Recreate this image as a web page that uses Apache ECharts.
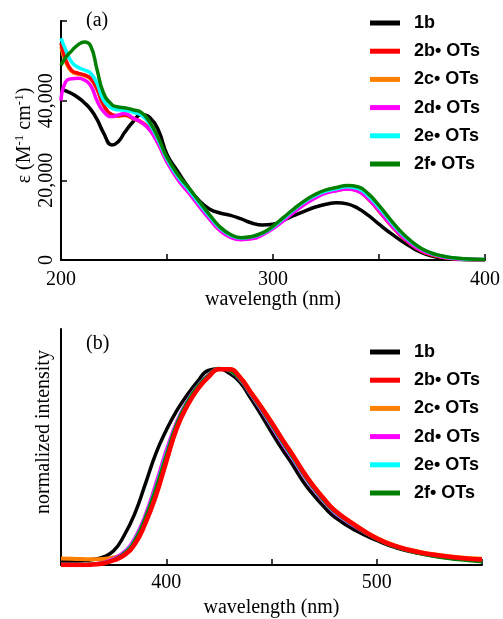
<!DOCTYPE html>
<html>
<head>
<meta charset="utf-8">
<script src="https://cdn.jsdelivr.net/npm/echarts@6/dist/echarts.min.js"></script>
<style>
  html, body { margin: 0; padding: 0; background: #fff; }
  #chart { width: 503px; height: 619px; }
</style>
</head>
<body>
<div id="chart"></div>
<script>
// (a) absorption, wavelength (nm) vs epsilon (M-1 cm-1)
const absWl = [200, 202, 205, 208, 211, 214, 217, 220, 224, 227, 230, 234, 238, 242, 246, 250,
  255, 260, 265, 270, 275, 280, 285, 290, 295, 300, 305, 310, 315, 320, 325, 330, 335, 340, 345, 350,
  355, 360, 365, 370, 375, 380, 385, 390, 400]
const abs1b = [43000, 42500, 41800, 40800, 39500, 37800, 35300, 32000, 28900, 29700, 32000, 34700, 36500, 35700, 32500, 26500,
  22300, 18300, 15000, 12800, 11800, 11200, 10300, 9300, 8800, 9000, 10000, 11200, 12300, 13300, 14000, 14400, 14100, 13000, 11200, 9000,
  6900, 5000, 3300, 1900, 1000, 500, 200, 80, 0]
const abs2b = [54400, 50600, 47600, 46900, 46500, 45600, 43000, 39000, 36500, 36200, 36400, 35600, 34600, 32800, 29200, 24800,
  20500, 17200, 13800, 10500, 7500, 5800, 5200, 5500, 6600, 8200, 10300, 12400, 14300, 15800, 16900, 17500, 17900, 17400, 15300, 12300,
  9100, 6300, 4000, 2300, 1300, 700, 350, 180, 50]
const abs2c = [53500, 50000, 47300, 46700, 46300, 45400, 42800, 38900, 36400, 36100, 36300, 35500, 34500, 32700, 29100, 24700,
  20400, 17100, 13700, 10400, 7500, 5800, 5200, 5500, 6600, 8200, 10300, 12400, 14300, 15800, 16900, 17500, 17900, 17400, 15300, 12300,
  9100, 6300, 4000, 2300, 1300, 700, 350, 180, 50]
const abs2d = [40000, 44500, 45500, 45600, 45200, 43800, 40000, 37300, 36000, 36400, 36800, 35600, 34500, 32500, 29000, 24600,
  20300, 17000, 13600, 10300, 7400, 5700, 5100, 5300, 6300, 7900, 9900, 12000, 14000, 15600, 16800, 17400, 17800, 17300, 15300, 12400,
  9200, 6400, 4100, 2400, 1400, 750, 380, 200, 60]
const abs2e = [55700, 53000, 49700, 48400, 47700, 46900, 44300, 40200, 38100, 37700, 37600, 37100, 36300, 34000, 30000, 25400,
  21000, 17800, 14300, 11000, 8000, 6200, 5500, 5800, 6700, 8300, 10500, 12700, 14700, 16200, 17300, 17900, 18400, 18000, 16100, 13200,
  10000, 7000, 4600, 2800, 1600, 950, 500, 280, 100]
const abs2f = [48900, 50700, 52500, 54000, 54700, 53700, 47800, 42000, 39000, 38400, 38200, 37700, 37000, 34500, 30500, 25800,
  21500, 18300, 14800, 11400, 8300, 6400, 5600, 5900, 6800, 8500, 10700, 12900, 14900, 16500, 17600, 18200, 18700, 18400, 16600, 13700,
  10400, 7300, 4800, 2900, 1700, 1000, 550, 300, 100]

// (b) emission, normalized
const emWl = [350, 355, 360, 365, 370, 375, 380, 385, 390, 395, 400, 405, 410, 415, 420, 425, 430, 435, 440, 445,
  450, 455, 460, 465, 470, 475, 480, 490, 500, 510, 520, 530, 540, 550]
const em1b = [0.02, 0.02, 0.022, 0.028, 0.04, 0.072, 0.15, 0.26, 0.41, 0.565, 0.685, 0.785, 0.865, 0.935, 0.99, 0.998, 0.975, 0.93, 0.85, 0.765,
  0.675, 0.59, 0.51, 0.425, 0.355, 0.295, 0.244, 0.175, 0.125, 0.085, 0.06, 0.042, 0.03, 0.02]
const em2b = [0, 0, 0, 0.003, 0.008, 0.024, 0.05, 0.105, 0.21, 0.35, 0.525, 0.695, 0.81, 0.895, 0.955, 0.995, 0.995, 0.955, 0.88, 0.805,
  0.725, 0.64, 0.56, 0.475, 0.4, 0.335, 0.277, 0.2, 0.135, 0.092, 0.065, 0.048, 0.036, 0.028]
const em2c = [0.033, 0.032, 0.03, 0.029, 0.03, 0.038, 0.058, 0.11, 0.213, 0.352, 0.527, 0.697, 0.812, 0.897, 0.957, 0.996, 0.996, 0.957, 0.883, 0.808,
  0.728, 0.643, 0.563, 0.478, 0.403, 0.338, 0.28, 0.203, 0.138, 0.095, 0.068, 0.05, 0.038, 0.032]
const em2d = [0.005, 0.005, 0.005, 0.008, 0.015, 0.035, 0.07, 0.14, 0.26, 0.42, 0.59, 0.735, 0.84, 0.915, 0.97, 1.0, 0.985, 0.94, 0.865, 0.785,
  0.7, 0.615, 0.535, 0.455, 0.38, 0.318, 0.262, 0.19, 0.13, 0.088, 0.062, 0.045, 0.033, 0.025]
const em2e = [0.004, 0.004, 0.004, 0.006, 0.012, 0.03, 0.063, 0.13, 0.245, 0.4, 0.57, 0.725, 0.835, 0.912, 0.967, 0.999, 0.987, 0.943, 0.868, 0.79,
  0.706, 0.622, 0.541, 0.46, 0.385, 0.322, 0.266, 0.193, 0.13, 0.087, 0.06, 0.042, 0.03, 0.02]
const em2f = [0.004, 0.004, 0.004, 0.006, 0.011, 0.028, 0.06, 0.125, 0.24, 0.39, 0.56, 0.72, 0.83, 0.91, 0.965, 1.0, 0.988, 0.945, 0.872, 0.795,
  0.712, 0.628, 0.548, 0.465, 0.39, 0.325, 0.27, 0.195, 0.13, 0.087, 0.058, 0.038, 0.025, 0.015]

const names = ['1b', '2b• OTs', '2c• OTs', '2d• OTs', '2e• OTs', '2f• OTs']
const colors = {
  '1b': '#000000',
  '2b• OTs': '#ff0000',
  '2c• OTs': '#ff8000',
  '2d• OTs': '#ff00ff',
  '2e• OTs': '#00ffff',
  '2f• OTs': '#008000'
}

const serif = 'Liberation Serif'
const pairs = (xs, ys) => xs.map((x, i) => [x, ys[i]])

function line(name, xs, ys, idx, width) {
  return {
    name,
    type: 'line',
    xAxisIndex: idx,
    yAxisIndex: idx,
    data: pairs(xs, ys),
    smooth: 0.5,
    showSymbol: false,
    symbol: 'none',
    lineStyle: { color: colors[name], width },
    itemStyle: { color: colors[name] }
  }
}

const axisCommon = {
  axisLine: { show: true, onZero: false, lineStyle: { color: '#000', width: 2 } },
  axisTick: { show: true, inside: true, length: 6, lineStyle: { color: '#000', width: 1.5 } },
  splitLine: { show: false },
  axisLabel: { color: '#000', fontFamily: serif, fontSize: 20 }
}

function legend(top) {
  return {
    data: names,
    orient: 'vertical',
    left: 370,
    top,
    padding: 0,
    icon: 'rect',
    itemWidth: 30,
    itemHeight: 5,
    itemGap: 8.2,
    selectedMode: false,
    textStyle: {
      fontFamily: 'Liberation Sans',
      fontWeight: 'bold',
      fontSize: 18,
      color: '#000',
      lineHeight: 20,
      padding: [0, 0, 0, 9]
    }
  }
}

const chart = echarts.init(document.getElementById('chart'))
chart.setOption({
  animation: false,
  backgroundColor: '#fff',
  title: [
    { text: '(a)', left: 86, top: 11, padding: 0, textStyle: { fontFamily: serif, fontSize: 20, fontWeight: 'normal', color: '#000' } },
    { text: '(b)', left: 86, top: 334, padding: 0, textStyle: { fontFamily: serif, fontSize: 20, fontWeight: 'normal', color: '#000' } }
  ],
  legend: [legend(13), legend(342)],
  grid: [
    { left: 61, right: 17, top: 21, bottom: 359 },
    { left: 61, right: 21, top: 329, bottom: 50 }
  ],
  xAxis: [
    {
      ...axisCommon,
      type: 'value', gridIndex: 0, min: 200, max: 400, interval: 50,
      name: 'wavelength (nm)', nameLocation: 'middle', nameGap: 30, nameMoveOverlap: false,
      nameTextStyle: { fontFamily: serif, fontSize: 20, color: '#000' },
      axisLabel: { ...axisCommon.axisLabel, margin: 10, formatter: v => (v % 100 === 0 ? String(v) : '') }
    },
    {
      ...axisCommon,
      type: 'value', gridIndex: 1, min: 350, max: 550, interval: 50,
      name: 'wavelength (nm)', nameLocation: 'middle', nameGap: 33, nameMoveOverlap: false,
      nameTextStyle: { fontFamily: serif, fontSize: 20, color: '#000' },
      axisLabel: { ...axisCommon.axisLabel, margin: 8, formatter: v => (v % 100 === 0 ? String(v) : '') }
    }
  ],
  yAxis: [
    {
      ...axisCommon,
      type: 'value', gridIndex: 0, min: 0, max: 60000, interval: 20000,
      name: '{t|ε (M}{s|-1}{t| cm}{s|-1}{t|)}',
      nameLocation: 'middle', nameGap: 26, nameRotate: 90, nameMoveOverlap: false,
      nameTextStyle: {
        color: '#000',
        padding: [0, 0, 0, 10],
        rich: {
          t: { fontFamily: serif, fontSize: 20, color: '#000', lineHeight: 22, verticalAlign: 'bottom' },
          s: { fontFamily: serif, fontSize: 13, color: '#000', lineHeight: 22, verticalAlign: 'top' }
        }
      },
      axisLabel: {
        ...axisCommon.axisLabel, rotate: 90, margin: 4,
        formatter: v => (v === 60000 ? '' : v.toString().replace(/\B(?=(\d{3})+(?!\d))/g, ','))
      }
    },
    {
      ...axisCommon,
      type: 'value', gridIndex: 1, min: 0, max: 1.2,
      name: 'normalized intensity', nameLocation: 'middle', nameGap: 7, nameRotate: 90, nameMoveOverlap: false,
      nameTextStyle: { fontFamily: serif, fontSize: 20, color: '#000', padding: [0, 0, 0, 30] },
      axisTick: { show: false },
      axisLabel: { show: false }
    }
  ],
  series: [
    line('1b', absWl, abs1b, 0, 3.5),
    line('2c• OTs', absWl, abs2c, 0, 3.5),
    line('2b• OTs', absWl, abs2b, 0, 3.5),
    line('2d• OTs', absWl, abs2d, 0, 3.5),
    line('2e• OTs', absWl, abs2e, 0, 3.5),
    line('2f• OTs', absWl, abs2f, 0, 3.5),

    line('1b', emWl, em1b, 1, 3.5),
    line('2c• OTs', emWl, em2c, 1, 4),
    line('2d• OTs', emWl, em2d, 1, 2.5),
    line('2e• OTs', emWl, em2e, 1, 2.5),
    line('2f• OTs', emWl, em2f, 1, 3),
    line('2b• OTs', emWl, em2b, 1, 4.5)
  ]
})
</script>
</body>
</html>
